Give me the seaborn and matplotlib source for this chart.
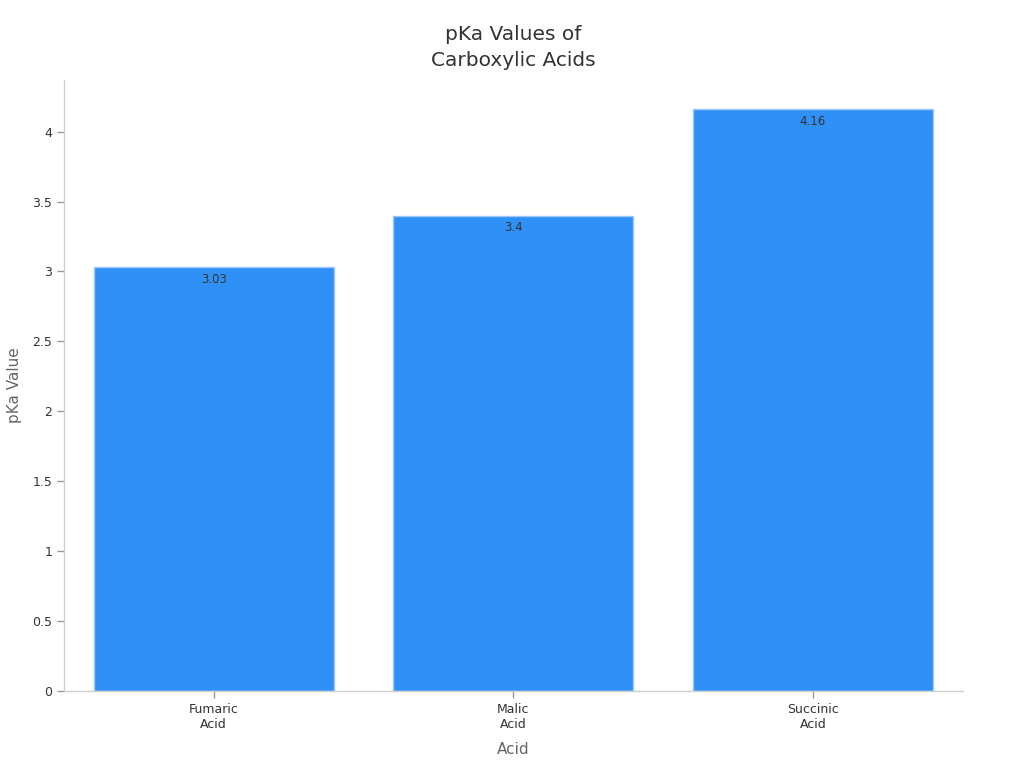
import matplotlib
matplotlib.use("Agg")
import matplotlib.pyplot as plt
import seaborn as sns
import pandas as pd

# data
acids = ["Fumaric\nAcid", "Malic\nAcid", "Succinic\nAcid"]
pka = [3.03, 3.4, 4.16]

sns.set_style("white")
plt.rcParams['font.family'] = ['DejaVu Sans']

df = pd.DataFrame({'Acid': acids, 'pKa': pka})

fig = plt.figure(figsize=(10.24, 7.68), dpi=100)
ax = fig.add_axes([0.0625, 0.1003, 0.8775, 0.7957])

sns.barplot(data=df, x='Acid', y='pKa', color='#2f91f8', saturation=1,
            width=0.8, edgecolor='#9cc9fb', linewidth=1, ax=ax)

# value labels inside the top of each bar
for p, v in zip(ax.patches, pka):
    ax.annotate(f"{v:g}", (p.get_x() + p.get_width() / 2, v),
                xytext=(0, -4), textcoords='offset points',
                ha='center', va='top', fontsize=8.5, color='#333333')

ax.set_xlim(-0.5, 2.5)
ax.set_ylim(0, 4.37)
ax.set_yticks([0, 0.5, 1, 1.5, 2, 2.5, 3, 3.5, 4])
ax.set_yticklabels(['0', '0.5', '1', '1.5', '2', '2.5', '3', '3.5', '4'])

sns.despine(ax=ax)
for s in ['left', 'bottom']:
    ax.spines[s].set_color('#d0d0d0')
    ax.spines[s].set_linewidth(1)

ax.tick_params(axis='both', which='both', length=5, width=1, color='#999999',
               labelsize=9, labelcolor='#333333', left=True, bottom=True)

ax.set_xlabel('Acid', fontsize=11, color='#666666', labelpad=8)
ax.set_ylabel('pKa Value', fontsize=11, color='#666666')
ax.yaxis.set_label_coords(-0.047, 0.5)
ax.set_title('pKa Values of\nCarboxylic Acids', fontsize=14.5, color='#333333',
             pad=10, linespacing=1.45)

plt.savefig('out.png', dpi=100)
